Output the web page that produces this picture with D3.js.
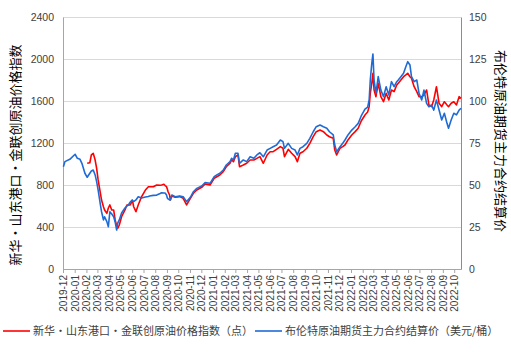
<!DOCTYPE html>
<html>
<head>
<meta charset="utf-8">
<script src="https://cdn.jsdelivr.net/npm/d3@7"></script>
<style>
  html, body { margin: 0; padding: 0; background: #fff; }
  svg { display: block; }
</style>
</head>
<body>
<div id="chart"></div>
<script>
// data (roughly weekly samples)
const dates = [
  "2019-12-02","2019-12-06","2019-12-19","2020-01-02","2020-01-08","2020-01-15","2020-01-20","2020-01-28",
  "2020-02-03","2020-02-10","2020-02-14","2020-02-19","2020-02-24","2020-02-28","2020-03-03","2020-03-09",
  "2020-03-12","2020-03-17","2020-03-20","2020-03-26","2020-03-30","2020-04-03","2020-04-08","2020-04-13",
  "2020-04-17","2020-04-21","2020-04-24","2020-04-28","2020-05-04","2020-05-13","2020-05-18","2020-05-22",
  "2020-05-27","2020-06-01","2020-06-03","2020-06-05","2020-06-11","2020-06-17","2020-06-26","2020-07-06",
  "2020-07-14","2020-07-17","2020-07-27","2020-08-05","2020-08-14","2020-08-18","2020-08-24","2020-08-27",
  "2020-08-31","2020-09-02","2020-09-04","2020-09-08","2020-09-10","2020-09-14","2020-09-23","2020-10-05",
  "2020-10-14","2020-10-23","2020-11-02","2020-11-10","2020-11-19","2020-12-02","2020-12-11","2020-12-24",
  "2021-01-04","2021-01-11","2021-01-19","2021-01-28","2021-02-05","2021-02-15","2021-02-19","2021-02-24",
  "2021-03-01","2021-03-08","2021-03-12","2021-03-22","2021-03-31","2021-04-09","2021-04-19","2021-04-27",
  "2021-05-05","2021-05-14","2021-05-24","2021-06-01","2021-06-09","2021-06-18","2021-06-28","2021-07-05",
  "2021-07-09","2021-07-19","2021-07-28","2021-08-06","2021-08-12","2021-08-19","2021-08-27","2021-09-06",
  "2021-09-14","2021-09-23","2021-10-01","2021-10-11","2021-10-20","2021-10-29","2021-11-05","2021-11-15",
  "2021-11-19","2021-11-24","2021-12-03","2021-12-10","2021-12-16","2021-12-24","2022-01-03","2022-01-12",
  "2022-01-20","2022-01-28","2022-02-07","2022-02-14","2022-02-18","2022-02-21","2022-02-25","2022-02-28",
  "2022-03-03","2022-03-08","2022-03-14","2022-03-21","2022-03-28","2022-04-04","2022-04-11","2022-04-18",
  "2022-04-25","2022-05-02","2022-05-06","2022-05-13","2022-05-20","2022-05-26","2022-05-31","2022-06-06",
  "2022-06-10","2022-06-17","2022-06-24","2022-06-30","2022-07-07","2022-07-13","2022-07-20","2022-07-26",
  "2022-08-02","2022-08-08","2022-08-15","2022-08-22","2022-08-29","2022-09-05","2022-09-12","2022-09-16",
  "2022-09-23","2022-09-30","2022-10-07","2022-10-14","2022-10-19"
];

// 新华・山东港口・金联创原油价格指数（点） - left axis
const indexValues = [
  null,null,null,null,null,null,null,null,
  1007,1012,1086,1102,1038,959,848,721,
  657,593,562,530,581,610,562,562,
  467,410,388,419,498,562,610,610,
  610,648,629,593,546,610,689,752,
  784,784,784,800,797,800,807,795,
  784,762,736,705,657,695,683,689,
  673,610,673,721,752,778,810,800,
  864,879,895,927,974,1007,1038,1022,
  1070,1086,974,990,1007,1038,1038,1054,
  1070,1007,1086,1117,1117,1140,1165,1150,
  1070,1140,1102,1070,1022,1102,1117,1150,
  1197,1260,1308,1324,1308,1276,1260,1245,
  1133,1086,1150,1165,1181,1229,1276,1308,
  1340,1410,1467,1495,1546,1673,1769,1864,
  1705,1641,1769,1641,1593,1673,1610,1705,
  1689,1752,1769,1800,1831,1848,1864,1831,
  1816,1736,1689,1641,1641,1657,1705,1562,
  1546,1610,1736,1578,1546,1593,1562,1546,
  1578,1593,1562,1641,1626
];

// 布伦特原油期货主力合约结算价（美元/桶） - right axis
const brentValues = [
  60.9,63.9,65.3,68.3,65.9,65.3,62.9,57.0,
  54.6,57.0,58.3,58.9,56.0,52.0,47.0,38.1,
  34.1,29.2,31.1,28.2,25.2,34.1,32.7,31.1,
  28.0,23.2,27.4,29.2,33.3,36.3,37.5,38.1,
  39.9,41.1,40.5,40.1,41.1,43.0,42.3,42.9,
  43.2,43.5,43.8,44.0,44.9,45.4,45.2,45.2,
  44.0,42.3,41.7,41.1,41.1,44.0,43.0,43.5,
  43.0,40.1,42.7,46.0,48.0,49.4,51.4,51.0,
  54.9,56.0,57.0,58.9,61.9,63.9,65.9,64.9,
  68.9,68.9,62.9,64.9,63.9,66.8,65.9,67.9,
  69.2,66.8,70.8,71.8,72.8,73.8,76.8,75.8,
  71.8,74.8,71.8,70.8,67.9,71.8,72.8,74.8,
  77.8,81.7,84.7,85.7,84.7,83.8,81.7,79.8,
  73.8,69.8,72.8,74.8,76.8,79.8,82.7,84.7,
  86.7,91.1,95.2,96.4,100.6,112.5,122.4,128.0,
  112.5,104.6,114.5,106.5,102.6,108.5,103.6,111.5,
  108.5,111.5,112.5,114.5,116.5,120.4,123.4,121.4,
  114.5,111.5,112.5,104.6,100.6,106.5,98.6,96.6,
  97.6,94.6,100.6,94.6,88.7,92.7,86.7,83.8,
  88.7,92.7,91.7,94.6,95.7
];

const monthLabels = [
  "2019-12","2020-01","2020-02","2020-03","2020-04","2020-05","2020-06","2020-07","2020-08","2020-09",
  "2020-10","2020-11","2020-12","2021-01","2021-02","2021-03","2021-04","2021-05","2021-06","2021-07",
  "2021-08","2021-09","2021-10","2021-11","2021-12","2022-01","2022-02","2022-03","2022-04","2022-05",
  "2022-06","2022-07","2022-08","2022-09","2022-10"
];
const leftTicks = [0, 400, 800, 1200, 1600, 2000, 2400];
const rightTicks = [0, 25, 50, 75, 100, 125, 150];

const seriesNames = ["新华・山东港口・金联创原油价格指数（点）", "布伦特原油期货主力合约结算价（美元/桶）"];
const leftTitle = "新华・山东港口・金联创原油价格指数";
const rightTitle = "布伦特原油期货主力合约结算价";

(() => {
    const width = 511, height = 352;
    const margin = { top: 17, right: 50, bottom: 83, left: 63 };
    const innerW = width - margin.left - margin.right;
    const innerH = height - margin.top - margin.bottom;

    const parse = d3.timeParse("%Y-%m-%d");
    const parseMonth = d3.timeParse("%Y-%m");
    const cn = "'Noto Sans CJK SC', sans-serif";
    const num = "'Liberation Sans', Arial, sans-serif";
    const red = "#ff0000", blue = "#1f6bd6";

    const data = dates.map((d, i) => ({ date: parse(d), idx: indexValues[i], brent: brentValues[i] }));

    const x = d3.scaleTime()
        .domain([parse("2019-12-01"), parse("2022-10-19")])
        .range([0, innerW]);
    const yL = d3.scaleLinear().domain([0, 2400]).range([innerH, 0]);
    const yR = d3.scaleLinear().domain([0, 150]).range([innerH, 0]);

    const svg = d3.select("#chart").append("svg")
        .attr("width", width)
        .attr("height", height);

    const chart = svg.append("g")
        .attr("transform", `translate(${margin.left},${margin.top})`);

    // gridlines
    chart.append("g")
        .selectAll("line")
        .data(leftTicks.slice(1))
        .enter().append("line")
        .attr("x1", 0).attr("x2", innerW)
        .attr("y1", d => yL(d)).attr("y2", d => yL(d))
        .attr("stroke", "#d9d9d9")
        .attr("stroke-width", 1)
        .attr("shape-rendering", "crispEdges");

    // x axis
    const xAxis = chart.append("g")
        .attr("transform", `translate(0,${innerH})`)
        .call(d3.axisBottom(x)
            .tickValues(monthLabels.map(parseMonth))
            .tickFormat(d3.timeFormat("%Y-%m"))
            .tickSize(4)
            .tickSizeOuter(0));
    xAxis.select(".domain").attr("stroke", "#a6a6a6");
    xAxis.selectAll(".tick line").attr("stroke", "#a6a6a6");
    xAxis.selectAll("text")
        .attr("transform", "rotate(-90)")
        .attr("x", -6)
        .attr("y", 0)
        .attr("dy", "0.35em")
        .style("text-anchor", "end")
        .style("font-family", num)
        .style("font-size", "10px")
        .style("fill", "#404040");

    // left axis
    const leftAxis = chart.append("g")
        .call(d3.axisLeft(yL).tickValues(leftTicks).tickFormat(d3.format("d")).tickSize(0).tickPadding(9));
    leftAxis.select(".domain").attr("stroke", "#a6a6a6");
    leftAxis.selectAll("text")
        .style("font-family", num)
        .style("font-size", "10.5px")
        .style("fill", "#404040");

    // right axis
    const rightAxis = chart.append("g")
        .attr("transform", `translate(${innerW},0)`)
        .call(d3.axisRight(yR).tickValues(rightTicks).tickFormat(d3.format("d")).tickSize(0).tickPadding(8));
    rightAxis.select(".domain").attr("stroke", "#8c8c8c");
    rightAxis.selectAll("text")
        .style("font-family", num)
        .style("font-size", "10.5px")
        .style("fill", "#404040");

    // lines
    const lineIdx = d3.line()
        .defined(d => d.idx != null)
        .x(d => x(d.date))
        .y(d => yL(d.idx));
    const lineBrent = d3.line()
        .x(d => x(d.date))
        .y(d => yR(d.brent));

    chart.append("path")
        .datum(data)
        .attr("fill", "none")
        .attr("stroke", red)
        .attr("stroke-width", 1.6)
        .attr("stroke-linejoin", "round")
        .attr("d", lineIdx);

    chart.append("path")
        .datum(data)
        .attr("fill", "none")
        .attr("stroke", blue)
        .attr("stroke-width", 1.6)
        .attr("stroke-linejoin", "round")
        .attr("d", lineBrent);

    // axis titles
    svg.append("text")
        .attr("transform", `translate(15,155) rotate(-90)`)
        .attr("text-anchor", "middle")
        .attr("dy", "0.35em")
        .style("font-family", cn)
        .style("font-size", "13px")
        .style("fill", "#000")
        .text(leftTitle);

    svg.append("text")
        .attr("transform", `translate(501,141) rotate(90)`)
        .attr("text-anchor", "middle")
        .attr("dy", "0.35em")
        .style("font-family", cn)
        .style("font-size", "13px")
        .style("fill", "#000")
        .text(rightTitle);

    // legend
    const legendItems = [
        { name: seriesNames[0], color: red, x: 3 },
        { name: seriesNames[1], color: blue, x: 255 }
    ];
    const legend = svg.append("g").attr("transform", "translate(0,331)");
    const items = legend.selectAll("g")
        .data(legendItems)
        .enter().append("g")
        .attr("transform", d => `translate(${d.x},0)`);
    items.append("line")
        .attr("x1", 0).attr("x2", 27)
        .attr("stroke", d => d.color)
        .attr("stroke-width", 1.6);
    items.append("text")
        .attr("x", 30)
        .attr("dy", "0.35em")
        .style("font-family", cn)
        .style("font-size", "11px")
        .style("fill", "#404040")
        .text(d => d.name);
})();
</script>
</body>
</html>
